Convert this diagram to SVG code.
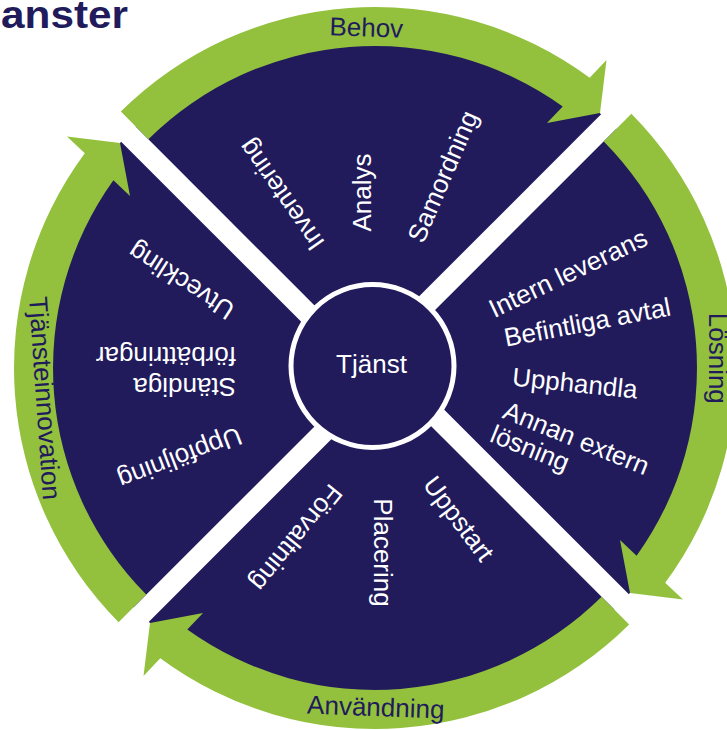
<svg xmlns="http://www.w3.org/2000/svg" width="727" height="730" viewBox="0 0 727 730">
<defs>
<style>
.dark{fill:#211b5c}
.green{fill:#93c13e}
.gap{fill:#ffffff}
.lbl{font-family:"Liberation Sans",Arial,sans-serif;font-size:26px;fill:#ffffff}
.arl{font-family:"Liberation Sans",Arial,sans-serif;font-size:26px;fill:#211b5c}
.title{font-family:"Liberation Sans",Arial,sans-serif;font-size:38px;font-weight:bold;fill:#211b5c}
</style>
<path id="arrowShape" d="M 120.85 111.62 A 361 361 0 0 1 589.7 77.8 L 606.5 60 L 600 113 L 547 123 L 562.7 106.4 A 322 322 0 0 0 148.39 139.24 Z"/>
<polygon id="gapStrip" points="361.21,354.21 644.05,71.37 658.9,86.22 376.06,369.06"/>
</defs>
<rect width="727" height="730" fill="#ffffff"/>
<g id="disk">
<circle cx="375" cy="368" r="340" class="dark"/>
</g>
<g id="connectors">
<use id="gap-tr" href="#gapStrip" class="gap"/>
<use id="gap-br" href="#gapStrip" class="gap" transform="rotate(90 375 368)"/>
<use id="gap-bl" href="#gapStrip" class="gap" transform="rotate(180 375 368)"/>
<use id="gap-tl" href="#gapStrip" class="gap" transform="rotate(270 375 368)"/>
</g>
<g id="arrow-behov">
<use href="#arrowShape" class="green"/>
<text class="arl" x="366" y="36.5" text-anchor="middle" transform="rotate(2 366 36.5)">Behov</text>
</g>
<g id="arrow-losning">
<use href="#arrowShape" class="green" transform="rotate(90 375 368)"/>
<text class="arl" x="709" y="358.3" text-anchor="middle" transform="rotate(90 709 358.3)">Lösning</text>
</g>
<g id="arrow-anvandning">
<use href="#arrowShape" class="green" transform="rotate(180 375 368)"/>
<text class="arl" x="375.5" y="716" text-anchor="middle" transform="rotate(2 375.5 716)">Användning</text>
</g>
<g id="arrow-tjansteinnovation">
<use href="#arrowShape" class="green" transform="rotate(270 375 368)"/>
<text class="arl" x="36" y="398.8" text-anchor="middle" transform="rotate(86 36 398.8)">Tjänsteinnovation</text>
</g>
<g id="quadrant-top">
<text class="lbl" x="288.7" y="189.8" text-anchor="middle" transform="rotate(-125 288.7 189.8)">Inventering</text>
<text class="lbl" x="371" y="192.5" text-anchor="middle" transform="rotate(-90 371 192.5)">Analys</text>
<text class="lbl" x="450.9" y="180" text-anchor="middle" transform="rotate(-66.7 450.9 180)">Samordning</text>
</g>
<g id="quadrant-right">
<text class="lbl" x="571.9" y="281.2" text-anchor="middle" transform="rotate(-25.5 571.9 281.2)">Intern leverans</text>
<text class="lbl" x="589" y="331" text-anchor="middle" transform="rotate(-10.8 589 331)">Befintliga avtal</text>
<text class="lbl" x="574" y="392" text-anchor="middle" transform="rotate(6 574 392)">Upphandla</text>
<text class="lbl" x="501.3" y="417.5" transform="rotate(22 501.3 417.5)">Annan extern<tspan x="498.3" dy="26.6">lösning</tspan></text>
</g>
<g id="quadrant-bottom">
<text class="lbl" x="451.6" y="524.1" text-anchor="middle" transform="rotate(53 451.6 524.1)">Uppstart</text>
<text class="lbl" x="374" y="552.5" text-anchor="middle" transform="rotate(90 374 552.5)">Placering</text>
<text class="lbl" x="289.4" y="532.3" text-anchor="middle" transform="rotate(129 289.4 532.3)">Förvaltning</text>
</g>
<g id="quadrant-left">
<text class="lbl" x="186.1" y="273.4" text-anchor="middle" transform="rotate(-147.4 186.1 273.4)">Utveckling</text>
<text class="lbl" x="236" y="377.5" transform="rotate(180 236 377.5)">Ständiga<tspan x="236" dy="30.7">förbättringar</tspan></text>
<text class="lbl" x="176.7" y="449.7" text-anchor="middle" transform="rotate(159 176.7 449.7)">Uppföljning</text>
</g>
<g id="center">
<circle cx="372.5" cy="366" r="81.5" class="dark" stroke="#ffffff" stroke-width="5"/>
<text class="lbl" x="371.5" y="373" text-anchor="middle">Tjänst</text>
</g>
<text class="title" x="1" y="28" textLength="127" lengthAdjust="spacingAndGlyphs">anster</text>
</svg>
